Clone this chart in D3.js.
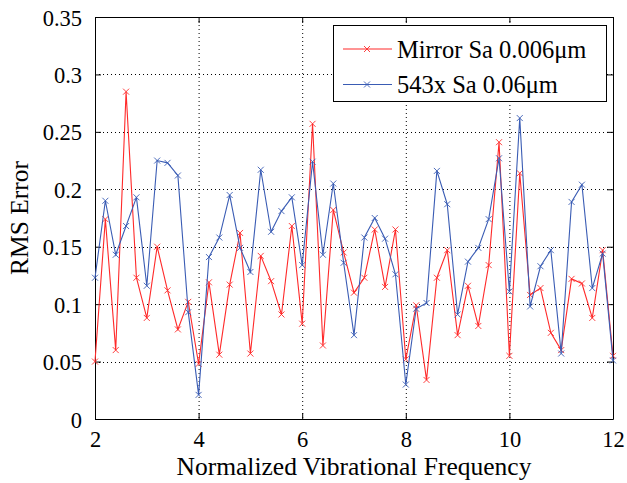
<!DOCTYPE html>
<html><head><meta charset="utf-8">
<script src="https://cdn.jsdelivr.net/npm/d3@7"></script>
<style>body{margin:0;background:#fff;} svg{display:block;}</style>
</head><body>
<svg id="c" width="627" height="483"></svg>
<script>
const xValues = d3.range(51).map(i => +(2 + i * 0.2).toFixed(1));
const mirror = [0.050,0.174,0.060,0.285,0.123,0.088,0.150,0.112,0.078,0.102,
  0.048,0.119,0.056,0.117,0.162,0.057,0.142,0.120,0.091,0.168,
  0.083,0.257,0.064,0.182,0.145,0.110,0.123,0.165,0.115,0.165,
  0.052,0.099,0.034,0.123,0.147,0.073,0.116,0.081,0.134,0.241,
  0.055,0.214,0.108,0.114,0.075,0.060,0.122,0.118,0.088,0.147,0.055];
const sample543 = [0.123,0.190,0.143,0.168,0.193,0.116,0.225,0.223,0.212,0.093,
  0.021,0.141,0.158,0.195,0.149,0.128,0.217,0.163,0.181,0.193,
  0.134,0.224,0.143,0.205,0.136,0.073,0.158,0.175,0.157,0.126,
  0.030,0.096,0.101,0.216,0.187,0.091,0.137,0.149,0.174,0.227,
  0.111,0.262,0.098,0.133,0.147,0.057,0.189,0.204,0.114,0.144,0.051];
const xTicks = [2,4,6,8,10,12];
const yTicks = [0,0.05,0.1,0.15,0.2,0.25,0.3,0.35];
const seriesNames = ["Mirror Sa 0.006\u03bcm","543x Sa 0.06\u03bcm"];
const colors = ["#ff2a2a","#3a5cb4"];

const svg = d3.select("#c");
const L=95, R=613, T=17, B=419;
const x = d3.scaleLinear().domain([2,12]).range([L,R]);
const y = d3.scaleLinear().domain([0,0.35]).range([B,T]);
const font = "'Liberation Serif','Times New Roman',serif";

// grid
const g = svg.append("g");
g.selectAll(".gx").data(xTicks.slice(1,-1)).join("line")
  .attr("x1",d=>x(d)+0.5).attr("x2",d=>x(d)+0.5).attr("y1",T).attr("y2",B)
  .attr("stroke","#000").attr("stroke-width",1).attr("stroke-dasharray","1,3");
g.selectAll(".gy").data(yTicks.slice(1,-1)).join("line")
  .attr("y1",d=>Math.round(y(d))+0.5).attr("y2",d=>Math.round(y(d))+0.5).attr("x1",L).attr("x2",R)
  .attr("stroke","#000").attr("stroke-width",1).attr("stroke-dasharray","1,3");

// axes with inward ticks
const fmtY = d => d===0 ? "0" : String(+d.toFixed(2));
const axB = svg.append("g").attr("transform",`translate(0,${B})`)
  .call(d3.axisBottom(x).tickValues(xTicks).tickSizeInner(-6).tickSizeOuter(0));
const axT = svg.append("g").attr("transform",`translate(0,${T})`)
  .call(d3.axisTop(x).tickValues(xTicks).tickSizeInner(-6).tickSizeOuter(0).tickFormat(""));
const axL = svg.append("g").attr("transform",`translate(${L},0)`)
  .call(d3.axisLeft(y).tickValues(yTicks).tickSizeInner(-6).tickSizeOuter(0).tickPadding(13).tickFormat(fmtY));
const axR = svg.append("g").attr("transform",`translate(${R},0)`)
  .call(d3.axisRight(y).tickValues(yTicks).tickSizeInner(-6).tickSizeOuter(0).tickFormat(""));
[axB,axT,axL,axR].forEach(a=>{
  a.selectAll("path").attr("stroke","#000");
  a.selectAll("line").attr("stroke","#000");
  a.selectAll("text").attr("font-family",font).attr("font-size",22.5).attr("fill","#000");
});
axB.selectAll("text").attr("y",28).attr("dy",0);
axL.selectAll("text").attr("dy","0.36em");

// series
const series = [mirror, sample543];
const line = d3.line().x((d,i)=>x(xValues[i])).y(d=>y(d));
series.forEach((s,si)=>{
  svg.append("path").datum(s).attr("d",line).attr("fill","none")
    .attr("stroke",colors[si]).attr("stroke-width",1.1);
  const m = 3;
  svg.append("g").selectAll("path").data(s).join("path")
    .attr("d",(d,i)=>{const cx=x(xValues[i]), cy=y(d);
      return `M${cx-m},${cy-m}L${cx+m},${cy+m}M${cx-m},${cy+m}L${cx+m},${cy-m}`;})
    .attr("stroke",colors[si]).attr("stroke-width",0.9).attr("fill","none");
});

// labels
svg.append("text").attr("x",(L+R)/2).attr("y",475).attr("text-anchor","middle")
  .attr("font-family",font).attr("font-size",25.5).text("Normalized Vibrational Frequency");
svg.append("text").attr("transform",`translate(28,${(T+B)/2}) rotate(-90)`).attr("text-anchor","middle")
  .attr("font-family",font).attr("font-size",25.5).text("RMS Error");

// legend
const lg = svg.append("g");
lg.append("rect").attr("x",333.5).attr("y",25.5).attr("width",273).attr("height",76)
  .attr("fill","#fff").attr("stroke","#000").attr("stroke-width",1);
seriesNames.forEach((n,i)=>{
  const cy = 49 + i*35.5;
  lg.append("line").attr("x1",343).attr("x2",392).attr("y1",cy).attr("y2",cy)
    .attr("stroke",colors[i]).attr("stroke-width",1.1);
  const m=3, cx=367;
  lg.append("path").attr("d",`M${cx-m},${cy-m}L${cx+m},${cy+m}M${cx-m},${cy+m}L${cx+m},${cy-m}`)
    .attr("stroke",colors[i]).attr("stroke-width",0.9);
  lg.append("text").attr("x",397).attr("y",cy).attr("dy","0.35em")
    .attr("font-family",font).attr("font-size",24.5).text(n);
});
</script>
</body></html>
